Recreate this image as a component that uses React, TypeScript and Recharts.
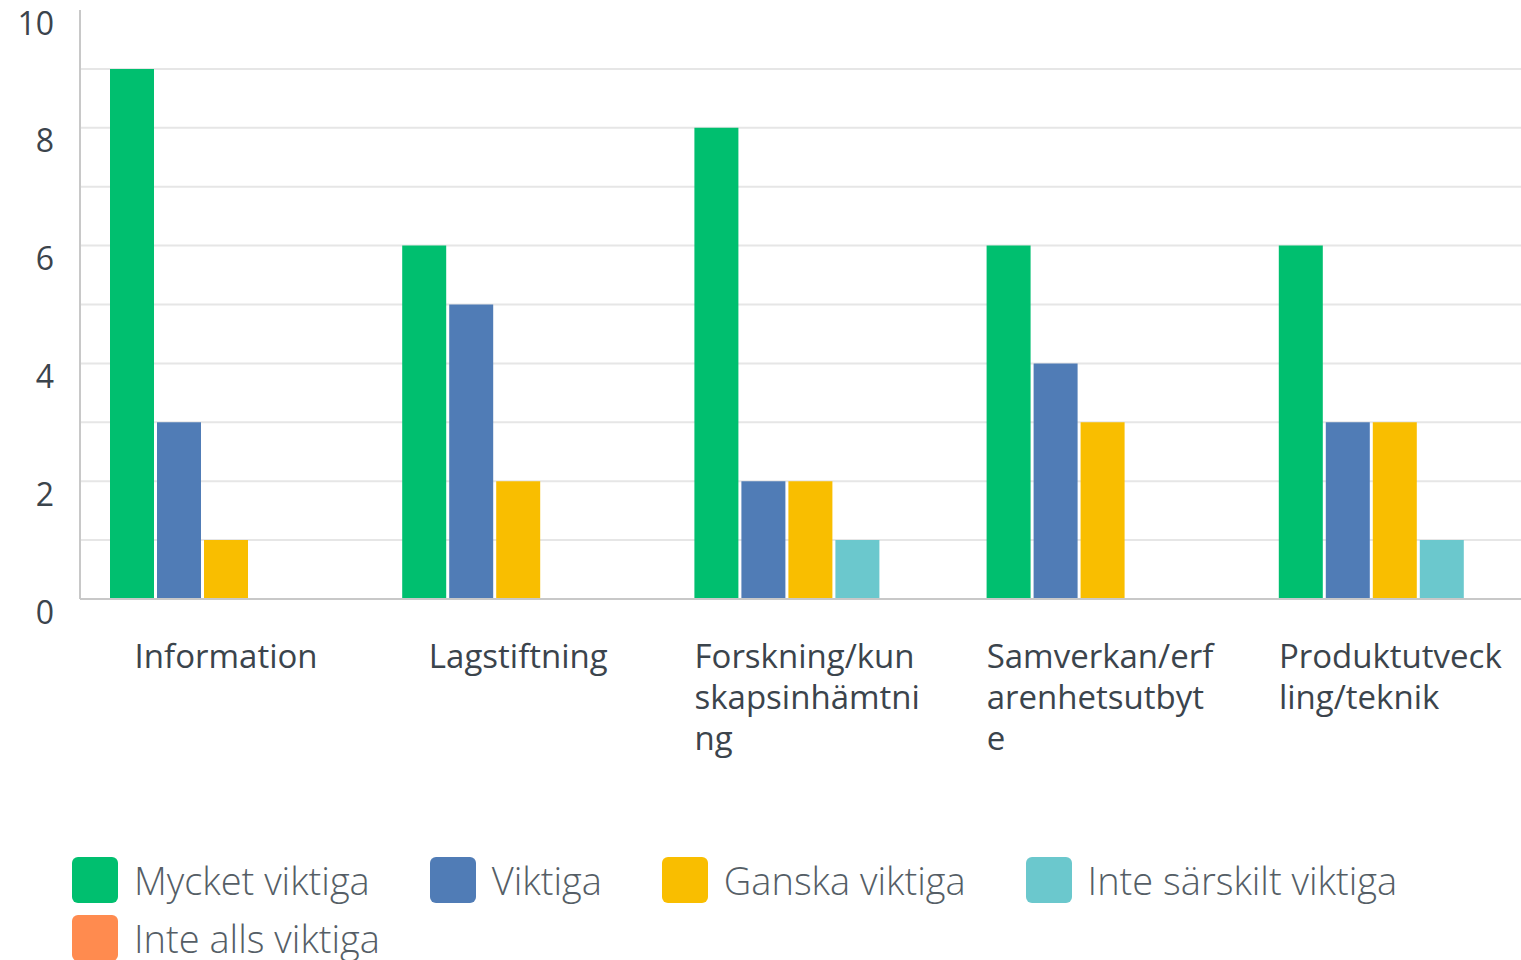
import React from 'react';
import { BarChart, Bar, XAxis, YAxis, CartesianGrid, Legend } from 'recharts';

const categories = ['Information', 'Lagstiftning', 'Forskning/kunskapsinhämtning', 'Samverkan/erfarenhetsutbyte', 'Produktutveckling/teknik'];
const categoryLines = [
  ['Information'],
  ['Lagstiftning'],
  ['Forskning/kun', 'skapsinhämtni', 'ng'],
  ['Samverkan/erf', 'arenhetsutbyt', 'e'],
  ['Produktutveck', 'ling/teknik'],
];
const seriesNames = ['Mycket viktiga', 'Viktiga', 'Ganska viktiga', 'Inte särskilt viktiga', 'Inte alls viktiga'];
const seriesColors = ['#00BF6F', '#507CB6', '#F9BE00', '#6BC8CD', '#FF8B4F'];
const mycketViktiga = [9, 6, 8, 6, 6];
const viktiga = [3, 5, 2, 4, 3];
const ganskaViktiga = [1, 2, 2, 3, 3];
const inteSarskilt = [0, 0, 1, 0, 1];
const inteAlls = [0, 0, 0, 0, 0];
const yTicks = [0, 1, 2, 3, 4, 5, 6, 7, 8, 9, 10];

const seriesValues = [mycketViktiga, viktiga, ganskaViktiga, inteSarskilt, inteAlls];
const data = categories.map((c, i) => {
  const row: any = { name: c, idx: i };
  seriesNames.forEach((s, k) => { row[s] = seriesValues[k][i]; });
  return row;
});

const FONT = '"Open Sans", "Noto Sans", sans-serif';

const XTick = (props: any) => {
  const { x, y, payload } = props;
  const lines = categoryLines[payload.index] || [payload.value];
  const multi = lines.length > 1;
  return (
    <g>
      {lines.map((l: string, i: number) => (
        <text key={i} x={multi ? x - 116 : x} y={y + 48 + i * 41} textAnchor={multi ? 'start' : 'middle'}
          dominantBaseline="central" fontSize={33} fill="#3b444c" fontFamily={FONT}>{l}</text>
      ))}
    </g>
  );
};

const YTick = (props: any) => {
  const { x, y, payload } = props;
  if (payload.value % 2 !== 0) return null;
  return (
    <text x={x - 18} y={y + 12} textAnchor="end" dominantBaseline="central" fontSize={32} fill="#3b444c" fontFamily={FONT}>
      {payload.value}
    </text>
  );
};

const GridLine = (props: any) => {
  const { x1, x2, y1, y2, index } = props;
  if (index === yTicks.length - 1) return <g key={`h-${index}`} />;
  return <line key={`h-${index}`} x1={x1} x2={x2} y1={y1} y2={y2} stroke="#e6e6e6" strokeWidth={2} />;
};

const LegendContent = () => (
  <div style={{ display: 'flex', flexWrap: 'wrap', columnGap: 60, rowGap: 12, paddingLeft: 72, width: 1449, boxSizing: 'border-box' }}>
    {seriesNames.map((s, i) => (
      <div key={s} style={{ display: 'flex', alignItems: 'center', height: 46 }}>
        <div style={{ width: 46, height: 46, borderRadius: 6, background: seriesColors[i], marginRight: 16 }} />
        <span style={{ fontSize: 38, lineHeight: '46px', color: '#555e66', fontFamily: FONT, fontWeight: 300, whiteSpace: 'nowrap' }}>{s}</span>
      </div>
    ))}
  </div>
);

export default function App() {
  return (
    <div style={{ position: 'absolute', left: 0, top: 0, width: 1521, height: 960, overflow: 'hidden', background: '#fff' }}>
      <BarChart width={1545} height={960} data={data} margin={{ top: 10, right: 4, left: 0, bottom: 0 }} barGap={3} barSize={44}>
        <CartesianGrid horizontal={GridLine} vertical={false} stroke="#e6e6e6" strokeWidth={2} />
        <XAxis dataKey="name" tick={<XTick />} tickLine={false} axisLine={{ stroke: '#c8c8c8', strokeWidth: 2 }} height={257} interval={0} />
        <YAxis width={80} domain={[0, 10]} ticks={yTicks} tick={<YTick />} tickLine={false} axisLine={{ stroke: '#c8c8c8', strokeWidth: 2 }} interval={0} />
        <Legend content={<LegendContent />} wrapperStyle={{ left: 0, top: 857, width: 1521 }} />
        {seriesNames.map((s, i) => (
          <Bar key={s} dataKey={s} fill={seriesColors[i]} isAnimationActive={false} />
        ))}
      </BarChart>
    </div>
  );
}
